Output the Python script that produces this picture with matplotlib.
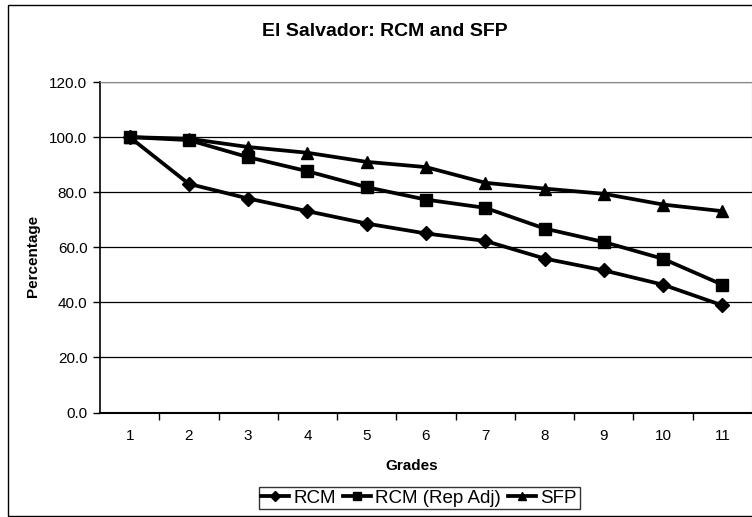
import matplotlib
matplotlib.use("Agg")
import matplotlib.pyplot as plt
from matplotlib.patches import Rectangle

plt.rcParams['font.family'] = ['Liberation Sans', 'DejaVu Sans']

# データ
grades = [1, 2, 3, 4, 5, 6, 7, 8, 9, 10, 11]
rcm = [100.0, 83.0, 77.7, 73.1, 68.6, 65.0, 62.3, 55.9, 51.6, 46.4, 38.9]
rcm_rep_adj = [100.0, 98.9, 92.7, 87.6, 81.8, 77.3, 74.3, 66.8, 61.9, 55.8, 46.4]
sfp = [100.0, 99.4, 96.4, 94.3, 91.0, 89.1, 83.4, 81.3, 79.4, 75.5, 73.1]
y_ticks = [0, 20, 40, 60, 80, 100, 120]

W, H = 752, 517
fig = plt.figure(figsize=(W / 100, H / 100), dpi=100)
ax = fig.add_axes([100 / W, (H - 412.5) / H, 652 / W, 330.5 / H])

# 外枠（右側は切れている）
fig.patches.append(Rectangle((8 / W, 1 / H), 1.0, 511 / H, transform=fig.transFigure,
                             fill=False, edgecolor='black', linewidth=1.0))

ax.plot(grades, rcm, color='black', linewidth=2.7, marker='D', markersize=7, label='RCM')
ax.plot(grades, rcm_rep_adj, color='black', linewidth=2.7, marker='s', markersize=8, label='RCM (Rep Adj)')
ax.plot(grades, sfp, color='black', linewidth=2.7, marker='^', markersize=8, label='SFP')

ax.set_xlim(0.5, 11.5)
ax.set_ylim(0, 120)
ax.set_yticks(y_ticks)
ax.set_yticklabels([f"{v:.1f}" for v in y_ticks], fontsize=11)
ax.set_xticks(grades)
ax.set_xticklabels([str(g) for g in grades], fontsize=11)
# 目盛りはカテゴリの間に
ax.set_xticks([g + 0.5 for g in grades[:-1]], minor=True)
ax.tick_params(axis='x', which='major', length=0, pad=12)
ax.tick_params(axis='x', which='minor', length=5, direction='out', width=1)
ax.tick_params(axis='y', length=5, direction='out', width=1, pad=4)

ax.grid(axis='y', color='black', linewidth=0.9)
ax.set_axisbelow(True)
for side in ['top', 'right']:
    ax.spines[side].set_color('#888888')
    ax.spines[side].set_linewidth(0.8)
ax.spines['left'].set_linewidth(1.2)
ax.spines['bottom'].set_linewidth(1.5)

ax.set_xlabel('Grades', fontsize=11, fontweight='bold')
ax.xaxis.set_label_coords(412 / W, 1 - 466 / H, transform=fig.transFigure)
ax.xaxis.label.set_va('center')
ax.set_ylabel('Percentage', fontsize=11, fontweight='bold')
ax.yaxis.set_label_coords(33 / W, 1 - 256 / H, transform=fig.transFigure)
ax.yaxis.label.set_va('center')
fig.text(385 / W, 1 - 32 / H, 'El Salvador: RCM and SFP', fontsize=14, fontweight='bold',
         ha='center', va='center')

leg = fig.legend(loc='center', bbox_to_anchor=(419 / W, 1 - 498 / H), ncol=3, fontsize=13.5,
                 frameon=True, fancybox=False, edgecolor='black', handlelength=1.5,
                 handletextpad=0.2, columnspacing=0.4, borderpad=0.15, borderaxespad=0,
                 markerscale=0.8)
leg.get_frame().set_linewidth(1.0)

fig.savefig('out.png', dpi=100)
